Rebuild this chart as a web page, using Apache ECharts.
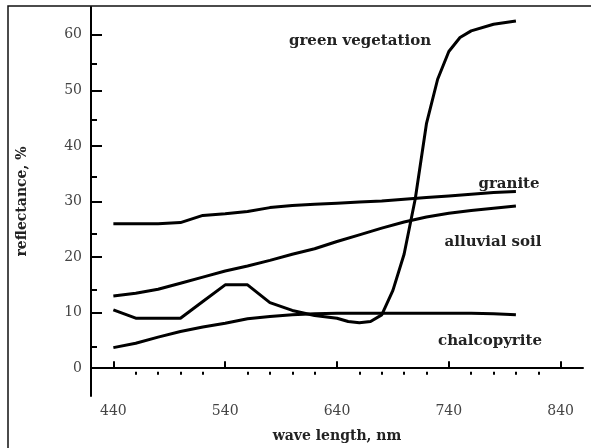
<!DOCTYPE html>
<html>
<head>
    <meta charset="utf-8">
    <title>reflectance</title>
    <script src="https://cdn.jsdelivr.net/npm/echarts@6/dist/echarts.min.js"></script>
</head>
<body style="margin:0;background:#fff">
    <div id="main" style="width:591px;height:448px;"></div>
    <script type="text/javascript">
        // wavelength, nm (for granite / soil / chalcopyrite)
        var wavelength = [440, 460, 480, 500, 520, 540, 560, 580, 600, 620, 640, 660, 680, 700, 720, 740, 760, 780, 800];
        var granite = [26, 26, 26, 26.2, 27.5, 27.8, 28.2, 28.9, 29.3, 29.5, 29.7, 29.9, 30.1, 30.4, 30.7, 31, 31.3, 31.6, 31.8];
        var alluvialSoil = [13, 13.5, 14.2, 15.3, 16.4, 17.5, 18.4, 19.4, 20.5, 21.5, 22.8, 24, 25.2, 26.3, 27.2, 27.9, 28.4, 28.8, 29.2];
        var chalcopyrite = [3.7, 4.5, 5.6, 6.6, 7.4, 8.1, 8.9, 9.3, 9.6, 9.8, 9.9, 9.9, 9.9, 9.9, 9.9, 9.9, 9.9, 9.8, 9.6];

        // green vegetation has its own sampling
        var vegWavelength = [440, 460, 480, 500, 520, 540, 560, 580, 600, 620, 640, 650, 660, 670, 680, 690, 700, 710, 720, 730, 740, 750, 760, 780, 800];
        var vegetation = [10.5, 9, 9, 9, 12, 15, 15, 11.8, 10.4, 9.5, 9.0, 8.4, 8.2, 8.4, 9.6, 14, 20.5, 30.5, 44, 52, 57, 59.5, 60.7, 61.9, 62.5];

        var xMajor = [440, 540, 640, 740, 840];
        var xMinor = [460, 480, 500, 520, 560, 580, 600, 620, 660, 680, 700, 720, 760, 780, 800, 820];
        var yMajor = [0, 10, 20, 30, 40, 50, 60];
        var yMinor = [5, 15, 25, 35, 45, 55];

        function pairs(xs, ys) {
            return xs.map(function (x, i) { return [x, ys[i]]; });
        }

        var tickFont = { fontFamily: 'DejaVu Serif', fontSize: 14, color: '#444' };
        var lineStyle = { color: '#000', width: 3 };
        var labelFont = 'bold 15px "DejaVu Serif"';

        function curve(name, data) {
            return {
                name: name, type: 'line', data: data,
                xAxisIndex: 0, yAxisIndex: 0,
                symbol: 'none', lineStyle: lineStyle, animation: false
            };
        }

        var myChart = echarts.init(document.getElementById('main'));
        myChart.setOption({
            animation: false,
            grid: [
                { left: 91, right: 8, top: 7, bottom: 45 },
                { left: 91, right: 8, top: 7, bottom: 45 }
            ],
            xAxis: [{
                type: 'value', gridIndex: 0, min: 420, max: 860,
                name: 'wave length, nm', nameLocation: 'middle', nameGap: 33,
                nameTextStyle: { fontFamily: 'DejaVu Serif', fontSize: 14, fontWeight: 'bold', color: '#222' },
                axisLine: { lineStyle: { color: '#000', width: 2 } },
                axisTick: { inside: true, length: 7, lineStyle: { color: '#000', width: 2 }, customValues: xMajor },
                axisLabel: Object.assign({ margin: 8, customValues: xMajor }, tickFont),
                splitLine: { show: false }
            }, {
                type: 'value', gridIndex: 1, min: 420, max: 860,
                axisLine: { show: false },
                axisTick: { inside: true, length: 3, lineStyle: { color: '#000', width: 2 }, customValues: xMinor },
                axisLabel: { show: false },
                splitLine: { show: false }
            }],
            yAxis: [{
                type: 'value', gridIndex: 0, min: -5, max: 65,
                name: 'reflectance, %', nameLocation: 'middle', nameGap: 62,
                nameTextStyle: { fontFamily: 'DejaVu Serif', fontSize: 14, fontWeight: 'bold', color: '#222' },
                axisLine: { show: true, lineStyle: { color: '#000', width: 2 } },
                axisTick: { show: true, inside: true, length: 11, lineStyle: { color: '#000', width: 2 }, customValues: yMajor },
                axisLabel: Object.assign({ margin: 9, customValues: yMajor }, tickFont),
                splitLine: { show: false }
            }, {
                type: 'value', gridIndex: 1, min: -5, max: 65,
                axisLine: { show: false },
                axisTick: { show: true, inside: true, length: 6, lineStyle: { color: '#000', width: 2 }, customValues: yMinor },
                axisLabel: { show: false },
                splitLine: { show: false }
            }],
            graphic: [
                { type: 'rect', shape: { x: 8, y: 6, width: 620, height: 480 }, style: { fill: 'none', stroke: '#111', lineWidth: 1.5 }, silent: true },
                { type: 'text', x: 360, y: 41, style: { text: 'green vegetation', align: 'center', verticalAlign: 'middle', font: labelFont, fill: '#222' } },
                { type: 'text', x: 509, y: 184, style: { text: 'granite', align: 'center', verticalAlign: 'middle', font: labelFont, fill: '#222' } },
                { type: 'text', x: 493, y: 242, style: { text: 'alluvial soil', align: 'center', verticalAlign: 'middle', font: labelFont, fill: '#222' } },
                { type: 'text', x: 490, y: 341, style: { text: 'chalcopyrite', align: 'center', verticalAlign: 'middle', font: labelFont, fill: '#222' } }
            ],
            series: [
                curve('granite', pairs(wavelength, granite)),
                curve('alluvial soil', pairs(wavelength, alluvialSoil)),
                curve('chalcopyrite', pairs(wavelength, chalcopyrite)),
                curve('green vegetation', pairs(vegWavelength, vegetation))
            ]
        });
    </script>
</body>
</html>
